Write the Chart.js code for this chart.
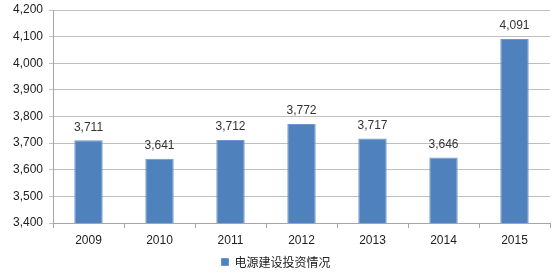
<!DOCTYPE html>
<html>
<head>
<meta charset="utf-8">
<script src="https://cdn.jsdelivr.net/npm/chart.js@4/dist/chart.umd.min.js"></script>
<style>
  html, body { margin: 0; padding: 0; background: #fff; }
  #wrap { width: 556px; height: 279px; position: relative; }
</style>
</head>
<body>
<div id="wrap"><canvas id="grafico"></canvas></div>
<script>
const anos = ['2009', '2010', '2011', '2012', '2013', '2014', '2015'];
const investimento = [3711, 3641, 3712, 3772, 3717, 3646, 4091];
const nomeSerie = '电源建设投资情况';
const eixoMin = 3400;
const eixoMax = 4200;
const passo = 100;

const fonteNum = "'Liberation Sans', Arial, sans-serif";

// rótulos em cima das barras
const rotulos = {
    id: 'rotulos',
    afterDatasetsDraw(chart) {
        const ctx = chart.ctx;
        const meta = chart.getDatasetMeta(0);
        ctx.save();
        ctx.font = '12px ' + fonteNum;
        ctx.fillStyle = '#333';
        ctx.textAlign = 'center';
        ctx.textBaseline = 'bottom';
        meta.data.forEach((barra, i) => {
            ctx.fillText(investimento[i].toLocaleString('en-US'), barra.x, barra.y - 7);
        });
        ctx.restore();
    }
};

new Chart(document.getElementById('grafico'), {
    type: 'bar',
    data: {
        labels: anos,
        datasets: [{
            label: nomeSerie,
            data: investimento,
            backgroundColor: '#4f81bd',
            borderColor: '#6b97cc',
            borderWidth: 1,
            barPercentage: 0.8,
            categoryPercentage: 0.5
        }]
    },
    options: {
        responsive: true,
        maintainAspectRatio: false,
        animation: false,
        layout: { padding: { left: 2, right: 6, top: 10, bottom: 1 } },
        plugins: {
            legend: {
                position: 'bottom',
                labels: {
                    boxWidth: 7,
                    boxHeight: 7,
                    padding: 1,
                    color: '#222',
                    font: { size: 12, family: "'Noto Sans CJK SC', sans-serif" }
                }
            },
            tooltip: { enabled: false }
        },
        scales: {
            x: {
                afterFit: s => { s.height = 32; },
                grid: { offset: true, drawOnChartArea: false, tickLength: 5, color: '#a6a6a6' },
                border: { color: '#a6a6a6' },
                ticks: { color: '#222', font: { size: 12, family: fonteNum }, padding: 5 }
            },
            y: {
                min: eixoMin,
                max: eixoMax,
                afterFit: s => { s.width = 51; s.paddingTop = 0; },
                ticks: {
                    stepSize: passo,
                    color: '#222',
                    font: { size: 12, family: fonteNum },
                    padding: 6,
                    callback: v => v.toLocaleString('en-US')
                },
                grid: { color: '#bfbfbf', tickLength: 4 },
                border: { color: '#a6a6a6' }
            }
        }
    },
    plugins: [rotulos]
});
</script>
</body>
</html>
